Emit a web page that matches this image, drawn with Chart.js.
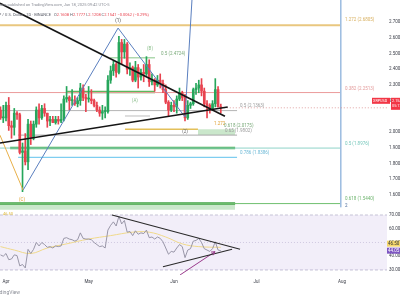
<!DOCTYPE html>
<html>
<head>
<meta charset="utf-8">
<script src="https://cdn.jsdelivr.net/npm/chart.js@4.4.1/dist/chart.umd.min.js"></script>
<style>
  html, body { margin: 0; padding: 0; background: #fff; overflow: hidden; }
  #marco { position: relative; width: 400px; height: 300px; }
  canvas { position: absolute; left: 0; }
  #graficoPrecio { top: 0; }
  #graficoRsi { top: 211px; }
</style>
</head>
<body>
<div id="marco">
  <canvas id="graficoPrecio" width="400" height="211"></canvas>
  <canvas id="graficoRsi" width="400" height="89"></canvas>
</div>
<script>
//DATOS (dias contados desde el 1 de abril de 2025)
const dias = [-2,-1,0,1,2,3,4,5,6,7,8,9,10,11,12,13,14,15,16,17,18,19,20,21,22,23,24,25,26,27,28,29,30,31,32,33,34,35,36,37,38,39,40,41,42,43,44,45,46,47,48,49,50,51,52,53,54,55,56,57,58,59,60,61,62,63,64,65,66,67,68,69,70,71,72,73,74,75,76,77,78];
const aperturas = [2.14,2.09,2.09,2.17,2.04,2.03,2.12,2.11,1.87,1.88,1.81,2.05,1.96,2.05,2.14,2.09,2.15,2.12,2.07,2.08,2.06,2.08,2.07,2.08,2.21,2.22,2.20,2.20,2.18,2.20,2.28,2.22,2.21,2.21,2.20,2.17,2.14,2.12,2.13,2.13,2.33,2.39,2.43,2.38,2.57,2.51,2.56,2.40,2.41,2.33,2.41,2.35,2.38,2.37,2.43,2.32,2.33,2.30,2.33,2.31,2.27,2.19,2.14,2.17,2.16,2.21,2.25,2.22,2.09,2.17,2.18,2.27,2.28,2.30,2.26,2.18,2.17,2.15,2.18,2.27,2.1608];
const maximos = [2.16,2.17,2.19,2.22,2.07,2.15,2.13,2.12,1.93,1.99,2.08,2.07,2.07,2.16,2.18,2.17,2.18,2.12,2.10,2.10,2.10,2.10,2.18,2.23,2.29,2.23,2.27,2.23,2.22,2.31,2.30,2.24,2.29,2.27,2.21,2.19,2.16,2.17,2.16,2.36,2.42,2.45,2.44,2.61,2.59,2.59,2.57,2.44,2.42,2.45,2.43,2.40,2.43,2.48,2.46,2.37,2.34,2.36,2.37,2.33,2.30,2.20,2.19,2.20,2.23,2.28,2.26,2.24,2.20,2.19,2.28,2.31,2.33,2.34,2.28,2.20,2.18,2.20,2.34,2.29,2.1777];
const minimos = [2.08,2.06,2.07,2.01,1.96,1.98,2.08,1.86,1.62,1.79,1.76,1.92,1.95,2.03,2.05,2.08,2.10,2.03,2.04,2.06,2.05,2.05,2.06,2.07,2.19,2.14,2.17,2.17,2.16,2.17,2.20,2.13,2.19,2.18,2.16,2.13,2.10,2.08,2.09,2.12,2.31,2.36,2.35,2.37,2.43,2.47,2.37,2.36,2.32,2.32,2.28,2.33,2.32,2.36,2.29,2.30,2.26,2.29,2.28,2.25,2.18,2.10,2.13,2.13,2.12,2.20,2.20,2.07,2.08,2.15,2.17,2.24,2.25,2.23,2.16,2.09,2.12,2.14,2.16,2.16,2.1208];
const cierres = [2.09,2.09,2.17,2.04,2.03,2.12,2.11,1.87,1.88,1.81,2.05,1.96,2.05,2.14,2.09,2.15,2.12,2.07,2.08,2.06,2.08,2.07,2.08,2.21,2.22,2.20,2.20,2.18,2.20,2.28,2.22,2.21,2.21,2.20,2.17,2.14,2.12,2.13,2.13,2.33,2.39,2.43,2.38,2.57,2.51,2.56,2.40,2.41,2.33,2.41,2.35,2.38,2.37,2.43,2.32,2.33,2.30,2.33,2.31,2.27,2.19,2.14,2.17,2.16,2.21,2.25,2.22,2.09,2.17,2.18,2.27,2.28,2.30,2.26,2.18,2.17,2.15,2.18,2.27,2.1603,2.1541];

const rsiValores = [41,40,42,37.5,38,41,40.5,33,34,31.5,45,42,45,50,47.5,50,48.5,46.5,47,46,47.5,47,47.5,53,53.5,52.5,52,51,52,57,53,52.5,52.5,52,50,48.5,47,47.5,46,59,62.5,65,62,69,63.5,66,57.5,58,55,58.5,56,57,56.5,59,53.5,54,52.5,54,53,50.5,46,41.5,43.5,43,46,48.5,47,39,44.5,45.5,51,51.5,53,50,45.5,44.5,43.5,45.5,50.5,44.5,44.05];
const mediaRsiDias = [-2,3,9,15,22,30,38,46,52,58,64,70,78];
const mediaRsiValores = [47,44.5,42,46,49,52.5,55,57.5,57.5,54,49,47,46.5];

const mesesDias = [0,30,61,91,122];
const mesesNombres = ["Apr","May","Jun","Jul","Aug"];
const preciosEje = [1.6,1.7,1.8,1.9,2.0,2.2,2.3,2.4,2.5,2.6,2.7];
const rsiEje = [30,40,50,60,70];

// niveles horizontales: precio, dia inicial, dia final
const nivelesPrecio = [2.6805,2.2513,2.255,2.4724,2.1363,2.102,2.0175,1.9802,1.8976,1.8976,1.8386,1.544,1.544];
const nivelesInicio = [-2.2,-2.2,22.2,37.8,-2.2,43.2,43.2,4.4,-2.2,1.5,4.4,-2.2,-2.2];
const nivelesFin = [121.3,121.3,54.1,54.1,83.9,52.3,69.7,83.9,121.3,83.2,83.9,121.3,83.2];

// zonas: arriba, abajo, dia inicial, dia final
const zonasArriba = [1.544,2.0175];
const zonasAbajo = [1.505,1.9802];
const zonasInicio = [-2.2,69.7];
const zonasFin = [83.2,83.2];

// lineas de tendencia y ondas
const bajistaDias = [-2.2,79.5];
const bajistaPrecios = [2.82,2.10];
const alcistaDias = [-2.2,80.5];
const alcistaPrecios = [1.93,2.159];
const ondaAzulDias = [6.2,40.7,65,67.9];
const ondaAzulPrecios = [1.63,2.662,2.0955,2.95];
const ondaNaranjaDias = [-2.2,6.2];
const ondaNaranjaPrecios = [1.98,1.63];
const verticalDias = [121.6,121.6];
const verticalPrecios = [1.52,2.95];

// textos sobre el grafico de precio
const etiquetasTexto = ["(1)","(B)","(A)","(2)","(C)","0.5 (2.4724)","1.272 (2.6805)","0.382 (2.2513)","0.5 (1.8976)","0.618 (1.5440)","2","0.5 (2.1363)","1.272","0.618 (2.0175)","0.65 (1.9802)","0.786 (1.8386)"];
const etiquetasDias = [40.7,52.3,46.8,65,5.8,56.3,123.1,123.1,123.1,123.1,123.1,85,75.5,79.2,79.5,85];
const etiquetasPrecios = [2.707,2.529,2.197,2.0,1.567,2.497,2.713,2.274,1.924,1.573,1.529,2.166,2.051,2.041,2.006,1.866];

// triangulo y flecha del RSI
const rsiArribaDias = [38.5,85];
const rsiArribaValores = [70,45.05];
const rsiAbajoDias = [57,82.1];
const rsiAbajoValores = [32.4,45.05];
const flechaDias = [63.2,75.9];
const flechaValores = [26.4,43.3];

//ESTILOS
const verde = "#26a65b";
const rojo = "#e8434f";
const fuente = "Roboto, 'Liberation Sans', sans-serif";
const estilosNiveles = [
    ["#e9c77f", 2], ["#ec9c9c", 1], ["#5cb85c", 2.5], ["#86c586", 1], ["#b4b4b4", 1], ["#bdbdbd", 1],
    ["#e3c05a", 1.5], ["#a8a8a8", 1], ["#8fd3c8", 1], ["#4caf50", 2.5], ["#7fcdf0", 1.2], ["#6fbf6f", 1], ["#43a047", 2.5]
];
const estilosEtiquetas = ["#444","#8bbf8b","#8fbf8f","#666","#e0a030","#7aaa7a","#d8b060","#e39a9a","#76c7bb","#6fb56f","#4a6a9a","#9a9a9a","#e0a030","#7aaa7a","#9a9a9a","#6bb8d6"];

function unirPuntos(xs, ys) {
    return xs.map((x, i) => ({ x: x, y: ys[i] }));
}

function crearLinea(xs, ys, color, ancho, extra) {
    return Object.assign({
        type: "line",
        data: unirPuntos(xs, ys),
        borderColor: color,
        borderWidth: ancho,
        pointRadius: 0,
        fill: false,
        tension: 0,
        order: 1
    }, extra || {});
}

//VELAS
let colores = dias.map((d, i) => cierres[i] >= aperturas[i] ? verde : rojo);
let mechas = dias.map((d, i) => ({ x: d, y: [minimos[i], maximos[i]] }));
let cuerpos = dias.map((d, i) => ({ x: d, y: [aperturas[i], cierres[i]] }));

let datasetsPrecio = [];
for (let i = 0; i < zonasArriba.length; i++) {
    datasetsPrecio.push(crearLinea([zonasInicio[i], zonasFin[i]], [zonasArriba[i], zonasArriba[i]], "rgba(76,175,80,0.0)", 0,
        { fill: { value: zonasAbajo[i] }, backgroundColor: "rgba(102,187,106,0.35)", order: 6 }));
}
for (let i = 0; i < nivelesPrecio.length; i++) {
    datasetsPrecio.push(crearLinea([nivelesInicio[i], nivelesFin[i]], [nivelesPrecio[i], nivelesPrecio[i]],
        estilosNiveles[i][0], estilosNiveles[i][1], { order: 5 }));
}
datasetsPrecio.push({ type: "bar", data: mechas, backgroundColor: colores, barThickness: 1, grouped: false, order: 4 });
datasetsPrecio.push({ type: "bar", data: cuerpos, backgroundColor: colores, barThickness: 2, minBarLength: 1, grouped: false, order: 3 });
datasetsPrecio.push(crearLinea([dias[dias.length - 1], 138.4], [cierres[cierres.length - 1], cierres[cierres.length - 1]], "#d98c8c", 0.8, { borderDash: [1, 2] }));
datasetsPrecio.push(crearLinea(ondaNaranjaDias, ondaNaranjaPrecios, "#e8b04a", 1));
datasetsPrecio.push(crearLinea(ondaAzulDias, ondaAzulPrecios, "#5a7fbf", 1));
datasetsPrecio.push(crearLinea(verticalDias, verticalPrecios, "#6a9ad0", 1));
datasetsPrecio.push(crearLinea(bajistaDias, bajistaPrecios, "#151515", 1.6, { order: 0 }));
datasetsPrecio.push(crearLinea(alcistaDias, alcistaPrecios, "#151515", 1.6, { order: 0 }));

function ajustarEjeY(escala) {
    escala.width = 13;
    escala.paddingTop = 0;
    escala.paddingBottom = 0;
}

const pluginPrecio = {
    id: "textosPrecio",
    afterDraw(chart) {
        const ctx = chart.ctx;
        const escX = chart.scales.x;
        const escY = chart.scales.y;
        ctx.save();
        ctx.textBaseline = "middle";

        // etiquetas de ondas y niveles
        for (let i = 0; i < etiquetasTexto.length; i++) {
            ctx.font = "4.5px " + fuente;
            ctx.fillStyle = estilosEtiquetas[i];
            ctx.textAlign = etiquetasTexto[i].startsWith("(") ? "center" : "left";
            ctx.fillText(etiquetasTexto[i], escX.getPixelForValue(etiquetasDias[i]), escY.getPixelForValue(etiquetasPrecios[i]));
        }

        // cabecera
        ctx.font = "4px " + fuente;
        ctx.textAlign = "left";
        ctx.fillStyle = "#8a8d96";
        ctx.fillText("ans published on TradingView.com, Jun 18, 2025 09:42 UTC-5", 0, 5);
        ctx.fillStyle = "#5d606b";
        ctx.textAlign = "right";
        ctx.fillText("XRP / U.S. Dollar · 1D · BINANCE", 51, 15);
        ctx.textAlign = "left";
        let xTexto = 54;
        const partes = [["O", "2.1608"], ["H", "2.1777"], ["L", "2.1208"], ["C", "2.1541"], ["", "−0.0062 (−0.29%)"]];
        for (let parte of partes) {
            ctx.fillStyle = "#5d606b";
            ctx.fillText(parte[0], xTexto, 15);
            xTexto += ctx.measureText(parte[0]).width;
            ctx.fillStyle = "#e8434f";
            ctx.fillText(parte[1], xTexto, 15);
            xTexto += ctx.measureText(parte[1] + " ").width;
        }

        // etiqueta del precio actual
        let yPrecio = escY.getPixelForValue(cierres[cierres.length - 1]);
        ctx.fillStyle = "#f23645";
        ctx.fillRect(372, yPrecio - 10, 18, 6);
        ctx.fillRect(391, yPrecio - 10, 12, 12);
        ctx.fillStyle = "#fff";
        ctx.font = "3.8px " + fuente;
        ctx.fillText("XRPUSD", 373, yPrecio - 7);
        ctx.fillText(cierres[cierres.length - 1].toFixed(4), 392, yPrecio - 7);
        ctx.fillText("05:17:32", 392, yPrecio - 1.5);
        ctx.restore();
    }
};

new Chart(document.getElementById("graficoPrecio"), {
    type: "bar",
    data: { datasets: datasetsPrecio },
    options: {
        responsive: false,
        animation: false,
        layout: { padding: 0 },
        plugins: { legend: { display: false }, tooltip: { enabled: false } },
        scales: {
            x: { type: "linear", min: -2.18, max: 138.35, offset: false, display: false },
            y: {
                position: "right",
                min: 1.4968,
                max: 2.8408,
                grid: { display: false, drawTicks: false },
                border: { display: false },
                afterBuildTicks: (escala) => { escala.ticks = preciosEje.map(v => ({ value: v })); },
                afterFit: ajustarEjeY,
                ticks: {
                    padding: 2,
                    color: "#3a3d47",
                    font: { size: 4.5, family: fuente },
                    callback: (valor) => valor.toFixed(4)
                }
            }
        }
    },
    plugins: [pluginPrecio]
});

//RSI
let datasetsRsi = [
    crearLinea([-2.2, 138.4], [70, 70], "#b9b5cc", 0.8, { borderDash: [3, 2], fill: { value: 30 }, backgroundColor: "rgba(126,87,194,0.10)", order: 6 }),
    crearLinea([-2.2, 138.4], [30, 30], "#b9b5cc", 0.8, { borderDash: [3, 2], order: 6 }),
    crearLinea([-2.2, 138.4], [50, 50], "#cfcbdc", 0.8, { borderDash: [1, 2], order: 6 }),
    crearLinea(mediaRsiDias, mediaRsiValores, "#f0d98a", 1, { tension: 0.4, order: 3 }),
    crearLinea(dias, rsiValores, "#8f8c9e", 0.9, { order: 2 }),
    crearLinea(rsiArribaDias, rsiArribaValores, "#2a2a2a", 1.1, { order: 0 }),
    crearLinea(rsiAbajoDias, rsiAbajoValores, "#2a2a2a", 1.1, { order: 0 }),
    crearLinea(flechaDias, flechaValores, "#9a3b8c", 1, { order: 0 })
];

const pluginRsi = {
    id: "textosRsi",
    afterDraw(chart) {
        const ctx = chart.ctx;
        const escX = chart.scales.x;
        const escY = chart.scales.y;
        ctx.save();

        // punta de la flecha
        let x1 = escX.getPixelForValue(flechaDias[0]), y1 = escY.getPixelForValue(flechaValores[0]);
        let x2 = escX.getPixelForValue(flechaDias[1]), y2 = escY.getPixelForValue(flechaValores[1]);
        let ang = Math.atan2(y2 - y1, x2 - x1);
        ctx.strokeStyle = "#9a3b8c";
        ctx.lineWidth = 1;
        ctx.beginPath();
        ctx.moveTo(x2 - 4 * Math.cos(ang - 0.5), y2 - 4 * Math.sin(ang - 0.5));
        ctx.lineTo(x2, y2);
        ctx.lineTo(x2 - 4 * Math.cos(ang + 0.5), y2 - 4 * Math.sin(ang + 0.5));
        ctx.stroke();

        // valores actuales
        let ultimoRsi = rsiValores[rsiValores.length - 1];
        let ultimaMedia = mediaRsiValores[mediaRsiValores.length - 1];
        let yRsi = escY.getPixelForValue(ultimoRsi);
        let yMedia = escY.getPixelForValue(ultimaMedia);
        if (yRsi - yMedia < 7) yMedia = yRsi - 7;
        ctx.font = "4.5px " + fuente;
        ctx.textBaseline = "middle";
        ctx.textAlign = "left";
        ctx.fillStyle = "#f5d76e";
        ctx.fillRect(387, yMedia - 3, 14, 6);
        ctx.fillStyle = "#333";
        ctx.fillText(ultimaMedia.toFixed(2), 388, yMedia);
        ctx.fillStyle = "#7e57c2";
        ctx.fillRect(387, yRsi - 3, 14, 6);
        ctx.fillStyle = "#fff";
        ctx.fillText(ultimoRsi.toFixed(2), 388, yRsi);

        // leyenda y marca
        ctx.font = "4px " + fuente;
        ctx.fillStyle = "#e0b93a";
        ctx.fillText(ultimaMedia.toFixed(2), 3, 3);
        ctx.fillStyle = "#8a8d96";
        ctx.font = "5px " + fuente;
        ctx.textAlign = "right";
        ctx.fillText("TradingView", 20, 82);
        ctx.restore();
    }
};

new Chart(document.getElementById("graficoRsi"), {
    type: "line",
    data: { datasets: datasetsRsi },
    options: {
        responsive: false,
        animation: false,
        layout: { padding: 0 },
        plugins: { legend: { display: false }, tooltip: { enabled: false } },
        scales: {
            x: {
                type: "linear",
                min: -2.18,
                max: 138.35,
                offset: false,
                grid: { display: false, drawTicks: false },
                border: { display: false },
                afterBuildTicks: (escala) => { escala.ticks = mesesDias.map(v => ({ value: v })); },
                afterFit: (escala) => { escala.height = 25; escala.paddingLeft = 0; escala.paddingRight = 0; },
                ticks: {
                    autoSkip: false,
                    maxRotation: 0,
                    padding: 4,
                    color: "#3a3d47",
                    font: { size: 4.5, family: fuente },
                    callback: (valor) => mesesNombres[mesesDias.indexOf(valor)]
                }
            },
            y: {
                position: "right",
                min: 26.36,
                max: 72.9,
                grid: { display: false, drawTicks: false },
                border: { display: false },
                afterBuildTicks: (escala) => { escala.ticks = rsiEje.map(v => ({ value: v })); },
                afterFit: ajustarEjeY,
                ticks: {
                    padding: 2,
                    color: "#3a3d47",
                    font: { size: 4.5, family: fuente },
                    callback: (valor) => valor.toFixed(2)
                }
            }
        }
    },
    plugins: [pluginRsi]
});
</script>
</body>
</html>
